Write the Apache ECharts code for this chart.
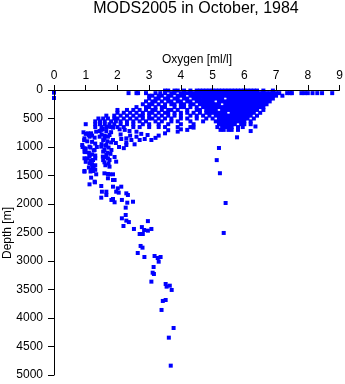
<!DOCTYPE html>
<html>
<head>
<meta charset="utf-8">
<script src="https://cdn.jsdelivr.net/npm/echarts@6/dist/echarts.min.js"></script>
<style>html,body{margin:0;padding:0;background:#fff}#c{width:345px;height:384px}</style>
</head>
<body>
<div id="c"></div>
<script>
// Tick labels
const xTicks = [0,1,2,3,4,5,6,7,8,9];
const yTicks = [0,500,1000,1500,2000,2500,3000,3500,4000,4500,5000];

// Dense upper layer: [depth, oxygen values...]
const coreRows = [
  [10, 3.5,3.6,3.8,3.9,4.1,4.3,4.5,4.6,4.7,4.8,4.9,5.0,5.1,5.2,5.3,5.4,5.5,5.6,5.7,5.8,5.9,6.0,6.1,6.2,6.3,6.4,6.6,6.9],
  [55, 2.35,2.6,2.65,2.9,3.2,3.35,3.5,3.7,3.8,4.0,4.1,4.2,4.3,4.4,4.5,4.6,4.7,4.8,4.9,5.0,5.1,5.2,5.3,5.4,5.5,5.6,5.7,5.8,5.9,6.0,6.1,6.2,6.3,6.4,6.5,6.6,6.7,6.8,6.9,7.0,7.1,7.35,7.45,7.5,7.8,7.9,8.0,8.15,8.3,8.45,8.77],
  [100, 3.0,3.1,3.3,3.4,3.6,3.7,3.9,4.0,4.1,4.3,4.4,4.5,4.6,4.7,4.8,4.9,5.0,5.1,5.2,5.3,5.4,5.5,5.6,5.7,5.8,5.9,6.0,6.1,6.2,6.3,6.4,6.5,6.6,6.7,6.8,6.9,7.0,7.2],
  [150, 3.0,3.2,3.3,3.5,3.6,3.8,3.9,4.1,4.2,4.4,4.5,4.6,4.7,4.8,4.9,5.0,5.1,5.2,5.3,5.5,5.6,5.7,5.8,5.9,6.0,6.1,6.2,6.3,6.4,6.5,6.6,6.7,6.8,6.9],
  [200, 2.9,3.1,3.2,3.4,3.6,3.7,3.9,4.0,4.2,4.3,4.5,4.6,4.7,4.8,4.9,5.0,5.2,5.3,5.4,5.5,5.6,5.7,5.8,5.9,6.0,6.1,6.2,6.3,6.4,6.5,6.6,6.7,6.8],
  [250, 2.8,3.0,3.1,3.3,3.5,3.7,3.8,4.0,4.1,4.3,4.4,4.6,4.7,4.8,4.9,5.0,5.1,5.2,5.4,5.5,5.6,5.7,5.8,5.9,6.0,6.1,6.2,6.3,6.4,6.5,6.6,6.7],
  [300, 2.6,2.9,3.0,3.2,3.4,3.5,3.8,4.0,4.1,4.3,4.5,4.7,4.8,4.9,5.0,5.1,5.2,5.3,5.4,5.5,5.6,5.7,5.8,5.9,6.0,6.1,6.2,6.3,6.4,6.5,6.6],
  [350, 2.0,2.3,2.5,2.7,2.9,3.1,3.2,3.4,3.6,3.7,3.9,4.2,4.5,4.6,4.8,4.9,5.0,5.1,5.3,5.4,5.5,5.6,5.7,5.8,5.9,6.0,6.1,6.2,6.3,6.4,6.6],
  [400, 2.0,2.2,2.4,2.6,2.8,3.0,3.1,3.3,3.5,3.6,3.8,4.0,4.2,4.4,4.6,4.8,4.9,5.0,5.1,5.2,5.3,5.4,5.6,5.7,5.8,5.9,6.0,6.1,6.2,6.3,6.5],
  [450, 1.65,1.9,2.1,2.3,2.5,2.7,2.8,3.0,3.2,3.4,3.6,3.8,4.0,4.3,4.5,4.7,4.9,5.1,5.2,5.3,5.4,5.5,5.6,5.7,5.8,5.9,6.0,6.1,6.2,6.4],
  [500, 1.4,1.55,1.7,1.9,2.0,2.2,2.4,2.6,2.8,3.0,3.1,3.3,3.5,3.7,4.0,4.2,4.5,4.8,5.0,5.2,5.3,5.4,5.5,5.6,5.7,5.8,5.9,6.0,6.1,6.3],
  [550, 1.3,1.45,1.6,1.8,1.95,2.1,2.3,2.5,2.7,2.9,3.2,3.4,3.7,3.9,4.3,4.7,5.1,5.2,5.3,5.4,5.5,5.6,5.7,5.8,5.9,6.0,6.2],
  [600, 1.0,1.3,1.45,1.6,1.75,1.9,2.1,2.3,2.5,2.8,3.0,3.3,3.6,4.0,4.4,5.2,5.3,5.4,5.5,5.6,5.7,5.9,6.0,6.2],
  [650, 1.3,1.5,1.65,1.8,2.0,2.2,2.5,2.7,3.0,3.3,3.5,3.9,4.3,5.15,5.3,5.4,5.5,5.6,5.8,5.95],
  [700, 5.25,5.35,5.5,5.6,5.8]
];

// Low-oxygen branch, 700-1450 m: [oxygen, depth]
const leftBranch = [
  [0.93,742],[1.07,760],[1.17,760],[1.33,731],[1.44,719],[1.54,684],[1.70,643],[1.86,661],
  [0.96,848],[1.12,819],[1.28,836],[1.44,819],[1.59,848],[1.70,819],[1.86,877],
  [0.89,965],[0.96,1023],[1.12,994],[1.28,1052],[1.49,994],[1.65,965],[1.59,1052],[1.81,1052],
  [0.96,1198],[1.12,1169],[1.23,1228],[1.54,1169],[1.65,1140],[1.75,1228],[1.96,1257],
  [1.12,1286],[1.23,1345],[1.59,1269],[1.75,1345],[0.96,1421],[1.23,1421],[1.91,1175],
  [0.96,1082],[1.12,1140],[1.17,1403],
  [1.0,770],[1.1,790],[1.2,800],[0.95,880],[1.05,900],[1.2,910],[1.3,940],[0.9,1000],
  [1.0,1030],[1.15,1010],[1.25,1060],[1.35,1000],[0.98,1090],[1.1,1100],[1.2,1130],[1.3,1150],
  [1.05,1200],[1.15,1240],[1.3,1200],[1.0,1260],[1.2,1300],[1.3,1320],[1.1,1360],[1.25,1380],
  [1.15,1430],[1.3,1400],
  [1.5,700],[1.65,720],[1.8,740],[1.5,780],[1.6,800],[1.75,790],[1.55,880],[1.68,900],
  [1.8,920],[1.5,950],[1.62,980],[1.72,1010],[1.55,1080],[1.68,1100],[1.78,1120],[1.6,1180],
  [1.7,1200],[1.55,1230],[1.72,1290],[1.62,1320]
];

// Intermediate arm, 650-1000 m
const armPoints = [
  [2.07,690],[2.23,700],[2.38,719],[2.6,731],[2.12,860],[2.28,848],[2.44,877],[2.7,877],
  [2.54,953],[2.28,965],[2.28,920],[3.07,877],[2.86,860],[2.6,820],[3.3,800],[3.5,760],
  [3.9,730],[4.2,700],[3.2,840],[2.95,790],[2.75,770],[3.6,705],[4.4,660],[4.0,690],
  [2.1,780],[2.4,800],[1.95,930],[2.05,1000],[2.2,1020]
];

// 1450-2000 m
const midPoints = [
  [1.17,1538],[1.33,1479],[1.59,1462],[1.70,1473],[1.75,1479],[1.86,1479],[1.70,1549],
  [1.86,1579],[1.91,1579],[1.12,1655],[1.29,1620],[1.49,1684],[1.86,1696],[2.01,1725],
  [2.12,1696],[1.65,1784],[1.51,1784],[1.96,1784],[2.04,1801],[2.28,1813],[2.33,1842],
  [1.49,1889],[1.65,1842],[1.86,1912],[1.81,1929],[1.91,1970],[2.14,1929],[2.31,1977],
  [2.49,1960],[0.96,1433],[1.28,1608]
];

// Deep tail, below 2000 m
const deepTail = [
  [2.26,2064],[2.26,2193],[2.14,2251],[2.28,2292],[2.36,2317],[2.19,2386],[2.52,2438],
  [2.96,2300],[2.77,2405],[2.84,2456],[2.96,2468],[3.07,2438],[2.70,2526],[2.80,2526],
  [2.73,2736],[2.79,2766],[2.64,2860],[2.85,2930],[3.17,2912],[3.27,2947],[3.36,2930],
  [3.30,3012],[3.14,3105],[3.11,3205],[3.15,3228],[3.07,3362],[3.52,3403],[3.55,3450],
  [3.65,3433],[3.71,3508],[3.43,3701],[3.52,3684],[3.39,3859],[3.77,4175],[3.62,4345],
  [3.68,4836]
];

// Isolated profiles
const isolated = [
  [0,47],[0,140],[5.77,830],[5.2,1017],[5.13,1230],[5.23,1460],[5.41,1982],[5.35,2508],
  [6.2,720],[6.35,640]
];

const points = [];
coreRows.forEach(r => r.slice(1).forEach(o => points.push([o, r[0]])));
[leftBranch, armPoints, midPoints, deepTail, isolated].forEach(a => a.forEach(p => points.push(p)));

const FONT = '"Liberation Sans", Arial, Helvetica, sans-serif';
const chart = echarts.init(document.getElementById('c'), null, {renderer: 'canvas'});
chart.setOption({
  animation: false,
  backgroundColor: '#fff',
  graphic: [
    {type: 'text', x: 196, y: 9, z: 10,
     style: {text: 'MODS2005 in October, 1984', fill: '#000', font: '16px ' + FONT,
       textAlign: 'center', textVerticalAlign: 'middle'}},
    {type: 'text', x: 197, y: 60, z: 10,
     style: {text: 'Oxygen [ml/l]', fill: '#000', font: '12px ' + FONT,
       textAlign: 'center', textVerticalAlign: 'middle'}},
    {type: 'text', x: 8, y: 233, z: 10, rotation: Math.PI / 2,
     style: {text: 'Depth [m]', fill: '#000', font: '12px ' + FONT,
       textAlign: 'center', textVerticalAlign: 'middle'}}
  ],
  grid: {left: 54, right: 5.5, top: 90, bottom: 9, containLabel: false, outerBoundsMode: 'none'},
  xAxis: {
    type: 'value', position: 'top', min: 0, max: 9, interval: 1, z: 5,
    axisLine: {show: true, lineStyle: {color: '#000', width: 1}},
    axisTick: {show: true, length: 5, lineStyle: {color: '#000'}},
    axisLabel: {fontFamily: FONT, fontSize: 12, color: '#000', margin: 8,
      formatter: v => xTicks.includes(v) ? String(v) : ''},
    splitLine: {show: false}
  },
  yAxis: {
    type: 'value', inverse: true, min: 0, max: 5000, interval: 500, z: 5,
    axisLine: {show: true, lineStyle: {color: '#000', width: 1}},
    axisTick: {show: true, length: 6, lineStyle: {color: '#000'}},
    axisLabel: {fontFamily: FONT, fontSize: 12, color: '#000', margin: 11,
      formatter: v => yTicks.includes(v) ? String(v) : ''},
    splitLine: {show: false}
  },
  series: [{
    type: 'scatter',
    data: points,
    symbol: 'rect',
    symbolSize: 4,
    clip: false,
    itemStyle: {color: '#0000ff', opacity: 1},
    emphasis: {disabled: true}
  }]
});
</script>
</body>
</html>
